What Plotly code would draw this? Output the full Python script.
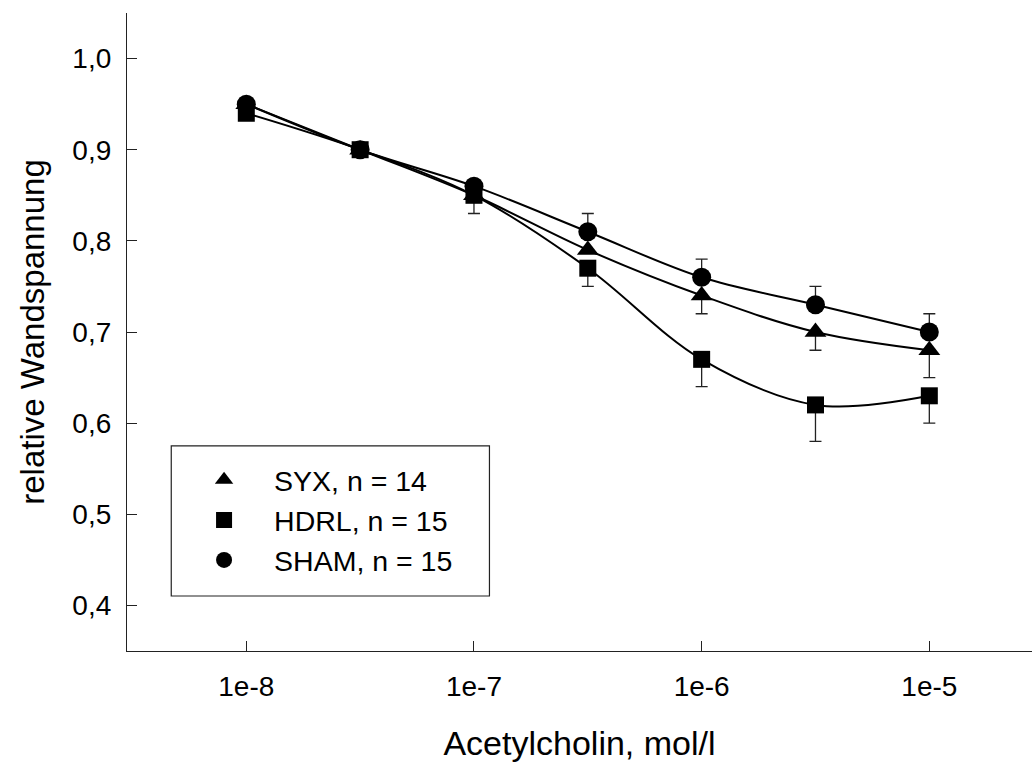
import plotly.graph_objects as go

# Data
conc = [1e-8, 10**-7.5, 1e-7, 10**-6.5, 1e-6, 10**-5.5, 1e-5]
syx = [0.95, 0.90, 0.85, 0.79, 0.74, 0.70, 0.68]
syx_err = [0.0, 0.0, 0.0, 0.0, 0.02, 0.02, 0.03]
hdrl = [0.94, 0.90, 0.85, 0.77, 0.67, 0.62, 0.63]
hdrl_err = [0.0, 0.0, 0.02, 0.02, 0.03, 0.04, 0.03]
sham = [0.95, 0.90, 0.86, 0.81, 0.76, 0.73, 0.70]
sham_err = [0.0, 0.0, 0.0, 0.02, 0.02, 0.02, 0.02]

series_names = ["SYX, n = 14", "HDRL, n = 15", "SHAM, n = 15"]
x_tickvals = [1e-8, 1e-7, 1e-6, 1e-5]
x_ticktext = ["1e-8", "1e-7", "1e-6", "1e-5"]
y_tickvals = [0.4, 0.5, 0.6, 0.7, 0.8, 0.9, 1.0]
y_ticktext = ["0,4", "0,5", "0,6", "0,7", "0,8", "0,9", "1,0"]

FONT = "Liberation Sans, Arial, sans-serif"

fig = go.Figure()

specs = [
    (syx, syx_err, "triangle-up", 19, False, series_names[0]),
    (hdrl, hdrl_err, "square", 17, False, series_names[1]),
    (sham, sham_err, "circle", 19, True, series_names[2]),
]

for vals, errs, sym, size, up, name in specs:
    err = dict(type="data", symmetric=False, color="#222222", thickness=1.3, width=6)
    if up:
        err["array"] = errs
        err["arrayminus"] = [0] * len(errs)
    else:
        err["array"] = [0] * len(errs)
        err["arrayminus"] = errs
    fig.add_trace(go.Scatter(
        x=conc, y=vals, mode="lines+markers",
        line=dict(color="black", width=2, shape="spline", smoothing=1),
        marker=dict(symbol=sym, size=size, color="black"),
        error_y=err, showlegend=False, name=name,
    ))

# legend-only marker traces
for vals, errs, sym, size, up, name in specs:
    fig.add_trace(go.Scatter(
        x=[None], y=[None], mode="markers", name=name,
        marker=dict(symbol=sym, size=size, color="black"),
        showlegend=True,
    ))

fig.add_shape(type="rect", xref="paper", yref="paper",
              x0=0.0489, x1=0.4005, y0=0.0862, y1=0.3215,
              line=dict(color="#222222", width=1.2), fillcolor="rgba(0,0,0,0)")

fig.update_layout(
    width=1032, height=765,
    margin=dict(l=127, r=0, t=13, b=114),
    paper_bgcolor="white", plot_bgcolor="white",
    font=dict(family=FONT, size=28, color="black"),
    legend=dict(x=0.052, y=0.3075, xanchor="left", yanchor="top",
                bgcolor="rgba(0,0,0,0)", borderwidth=0,
                font=dict(size=28.5), itemwidth=90, traceorder="normal"),
    xaxis=dict(
        type="log", range=[-8.524, -4.549],
        showline=True, linecolor="#222222", linewidth=1.2,
        ticks="inside", ticklen=10, tickcolor="#222222", tickwidth=1.2,
        tickvals=x_tickvals, ticktext=x_ticktext,
        tickfont=dict(size=28), ticklabelstandoff=10,
        showgrid=False, zeroline=False, mirror=False,
        title=dict(text="Acetylcholin, mol/l", font=dict(size=34), standoff=30),
    ),
    yaxis=dict(
        range=[0.35, 1.05],
        showline=True, linecolor="#222222", linewidth=1.2,
        ticks="inside", ticklen=10, tickcolor="#222222", tickwidth=1.2,
        tickvals=y_tickvals, ticktext=y_ticktext,
        tickfont=dict(size=28), ticklabelstandoff=9,
        showgrid=False, zeroline=False, mirror=False,
        title=dict(text="relative Wandspannung", font=dict(size=33), standoff=17),
    ),
)

fig.write_html("out.html")
